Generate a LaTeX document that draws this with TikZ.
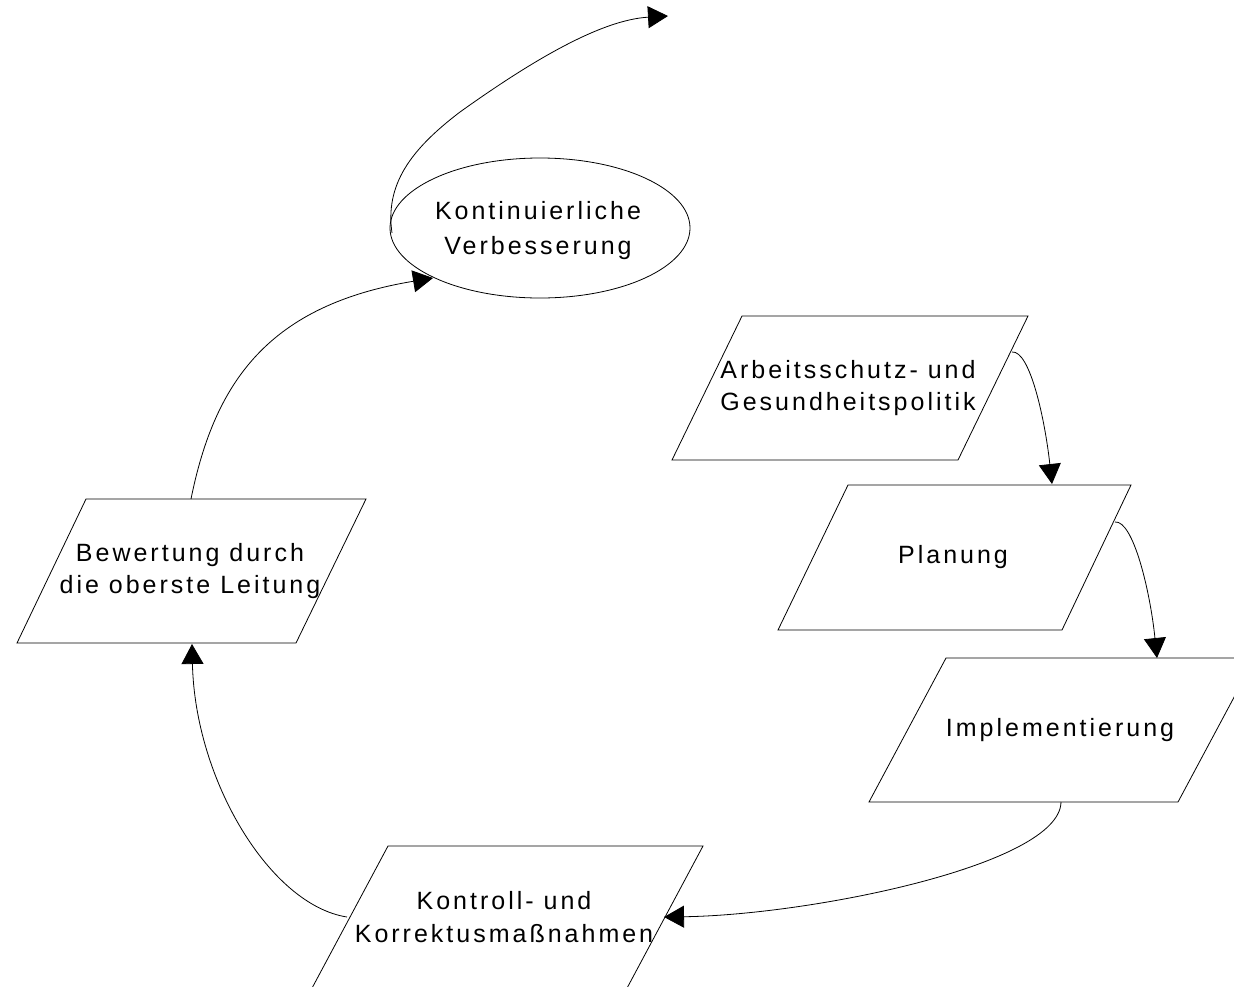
\documentclass[tikz,border=0pt]{standalone}
\usepackage{fontspec}
\setmainfont{Liberation Sans}[LetterSpace=12]
\usetikzlibrary{arrows.meta}
\begin{document}
\begin{tikzpicture}[x=1pt,y=-1pt,
  shapeline/.style={draw=black,line width=0.8pt},
  conn/.style={draw=black,line width=0.8pt,-{Triangle[length=20pt,width=22pt]}},
  lbl/.style={align=center,inner sep=0pt,font=\fontsize{25}{32}\selectfont}]
\useasboundingbox (0,0) rectangle (1234,986);
\clip (0,0) rectangle (1234,986);
% shapes
\draw[shapeline] (540,228) ellipse [x radius=150, y radius=70];
\draw[shapeline] (742,316) -- (1028,316) -- (958,460) -- (672,460) -- cycle;
\draw[shapeline] (848,485) -- (1131,485) -- (1062,630) -- (778,630) -- cycle;
\draw[shapeline] (946,658) -- (1255,658) -- (1178,802) -- (869,802) -- cycle;
\draw[shapeline] (388,846) -- (703,846) -- (626,990) -- (311,990) -- cycle;
\draw[shapeline] (86,499) -- (366,499) -- (296,643) -- (17,643) -- cycle;
% labels
\node[lbl,font=\fontsize{25}{35}\selectfont] (kv) at (538,231) {Kontinuierliche\\Verbesserung};
\node[lbl] (ag) at (848,388) {Arbeitsschutz- und\\Gesundheitspolitik};
\node[lbl] (pl) at (953,557) {Planung};
\node[lbl] (im) at (1060,730) {Implementierung};
\node[lbl,font=\fontsize{25}{33}\selectfont] (kk) at (504,917) {Kontroll- und\\Korrektusmaßnahmen};
\node[lbl] (bw) at (190,571) {Bewertung durch\\die oberste Leitung};
% connector end points on the shapes
\coordinate (agR) at (1012,352);
\coordinate (plT) at (1052,484);
\coordinate (plR) at (1115,522);
\coordinate (imT) at (1157,658);
\coordinate (imB) at (1061,802);
\coordinate (kkR) at (664,917);
\coordinate (kkL) at (347,917);
\coordinate (bwB) at (192,644);
\coordinate (bwT) at (191,499);
\coordinate (kvB) at (433,278);
\coordinate (kvL) at (392,233);
\coordinate (kvM) at (460,112);
\coordinate (out) at (668,16);
% connectors
\draw[conn] (agR) .. controls (1030,350) and (1045,420) .. (plT);
\draw[conn] (plR) .. controls (1133,520) and (1150,590) .. (imT);
\draw[conn] (imB) .. controls (1060,865) and (810,915) .. (kkR);
\draw[conn] (kkL) .. controls (270,905) and (195,780) .. (bwB);
\draw[conn] (bwT) .. controls (215,380) and (270,305) .. (kvB);
\draw[conn] (kvL) .. controls (385,185) and (410,150) .. (kvM) .. controls (530,62) and (600,20) .. (out);
\end{tikzpicture}
\end{document}
